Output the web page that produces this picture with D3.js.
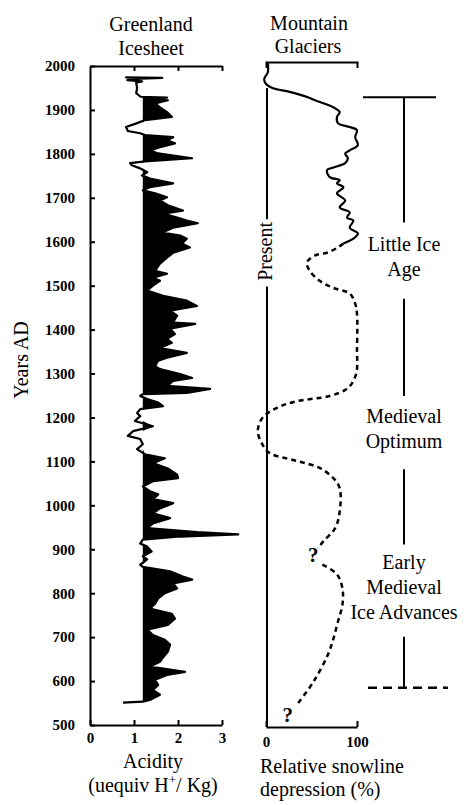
<!DOCTYPE html>
<html>
<head>
<meta charset="utf-8">
<script src="https://cdn.jsdelivr.net/npm/d3@7"></script>
<style>
  body { margin: 0; background: #fff; }
  svg text { font-family: "Liberation Serif", "Times New Roman", serif; fill: #000; }
</style>
</head>
<body>
<svg id="chart" width="474" height="805"></svg>
<script>
// Greenland ice core acidity (uequiv H+/Kg) by year AD
const iceYears = [1974,1973,1971,1968,1965,1962,1950,1938,1930,1928,1926,1922,1915,1906,1895,1884,1877,1870,1861,1852,1847,1843,1838,1831,1824,1815,1808,1801,1790,1783,1779,1774,1767,1758,1751,1744,1733,1724,1717,1710,1701,1694,1683,1671,1664,1655,1648,1642,1632,1621,1614,1607,1596,1587,1575,1564,1550,1534,1527,1518,1511,1500,1489,1477,1466,1454,1443,1432,1416,1413,1402,1390,1379,1370,1358,1347,1336,1329,1317,1310,1299,1290,1283,1272,1265,1256,1253,1249,1242,1234,1226,1219,1210,1203,1192,1180,1169,1158,1151,1139,1128,1116,1107,1096,1084,1070,1062,1055,1043,1032,1025,1014,1005,993,982,971,959,948,939,934,929,922,913,906,895,884,877,865,860,850,838,831,822,811,800,788,776,765,753,742,728,717,705,694,683,667,651,644,633,621,614,603,591,580,569,557,553,551];
const iceAcidity = [0.80,1.64,1.15,0.85,1.18,1.05,1.07,1.05,1.15,1.75,1.25,1.77,1.48,1.59,1.75,1.86,1.25,1.07,0.82,0.86,1.14,1.25,1.89,1.75,1.93,1.59,1.36,1.55,2.32,1.25,0.91,0.95,1.14,1.30,1.18,1.36,1.89,1.36,1.20,1.48,1.75,1.59,1.77,2.11,1.66,1.98,2.20,2.45,1.89,1.64,2.05,2.20,2.09,2.27,1.89,1.75,1.59,1.48,1.75,1.43,1.59,1.43,1.30,1.66,2.20,2.43,1.82,1.98,1.89,2.39,1.82,1.93,1.75,1.86,1.59,2.20,1.75,1.55,1.48,1.59,2.05,2.32,1.89,1.75,2.73,2.20,1.20,1.14,1.30,1.55,1.66,1.14,1.07,1.14,1.02,1.43,0.98,0.86,1.14,1.20,1.07,1.25,1.70,1.43,1.77,1.98,2.00,1.43,1.20,1.36,1.55,1.43,1.89,1.59,1.43,1.82,1.43,1.30,2.43,3.37,2.05,1.20,1.14,1.30,1.40,1.20,1.30,1.14,1.20,1.82,2.11,2.32,1.89,1.98,1.70,1.55,1.48,1.36,1.86,1.93,1.77,1.30,1.43,1.70,1.82,1.77,1.64,1.59,1.36,2.16,1.75,1.48,1.55,1.43,1.59,1.36,1.20,0.75];
const iceBase = 1.2;

// Mountain glaciers: relative snowline depression (%) by year AD
const glacierSolidYears = [2009,1986,1970,1959,1950,1941,1929,1922,1906,1895,1884,1870,1861,1854,1838,1820,1808,1801,1790,1779,1769,1763,1747,1740,1733,1724,1710,1694,1678,1667,1655,1648,1632,1619,1607,1596];
const glacierSolidPct   = [2,2,-2,0,7,26,46,54,74,81,78,79,92,100,98,101,92,87,90,87,74,67,70,81,78,85,78,87,81,92,89,96,92,101,96,85];
const glacierDashAYears = [1596,1587,1575,1569,1553,1534,1511,1495,1482,1459,1436,1358,1299,1267,1249,1237,1222,1199,1169,1139,1119,1101,1085,1062,1039,986,948,918,902];
const glacierDashAPct   = [85,79,67,54,45,48,59,74,92,98,100,100,99,90,70,34,12,-4,-9,-4,4,34,59,74,81,81,76,63,57];
const glacierDashBYears = [865,843,811,774,735,696,660,598,546];
const glacierDashBPct   = [62,78,84,84,79,74,68,52,34];
const queryYears = [886, 523];
const queryPct   = [52, 24];

// Climate periods (year ranges of bracket lines) and their names
const periodLines = [[1929,1644],[1470,1249],[1082,911],[701,585]];
const periodNames = [["Little Ice","Age"],["Medieval","Optimum"],["Early","Medieval","Ice Advances"]];

const yearTicks = d3.range(500, 2001, 100);
const acidTicks = [0, 1, 2, 3];
const snowTicks = [0, 100];

const svg = d3.select("#chart");

const y = d3.scaleLinear().domain([500, 2000]).range([725, 66]);
const xA = d3.scaleLinear().domain([0, 3]).range([90, 222]);
const xG = d3.scaleLinear().domain([0, 100]).range([266, 357]);

function styleAxis(g, bold) {
  g.selectAll("path, line").attr("stroke", "#000").attr("stroke-width", 2);
  g.selectAll("text")
    .attr("font-family", "Liberation Serif, Times New Roman, serif")
    .attr("font-size", 15)
    .attr("font-weight", bold ? "bold" : "normal")
    .attr("fill", "#000");
}

// ---- Greenland panel ----
const ice = iceYears.map((yr, i) => ({ year: yr, v: iceAcidity[i] }));

svg.append("path")
  .datum(ice)
  .attr("d", d3.area()
    .y(d => y(d.year))
    .x0(xA(iceBase))
    .x1(d => xA(Math.max(d.v, iceBase))))
  .attr("fill", "#000");

svg.append("path")
  .datum(ice)
  .attr("d", d3.line().x(d => xA(d.v)).y(d => y(d.year)))
  .attr("fill", "none")
  .attr("stroke", "#000")
  .attr("stroke-width", 2.2)
  .attr("stroke-linejoin", "round");

svg.append("g")
  .attr("transform", `translate(${xA(0)},0)`)
  .call(d3.axisLeft(y).tickValues(yearTicks).tickFormat(d3.format("d"))
    .tickSize(-5).tickSizeOuter(0).tickPadding(15))
  .call(g => styleAxis(g, true));

svg.append("g")
  .attr("transform", `translate(0,${y(500)})`)
  .call(d3.axisBottom(xA).tickValues(acidTicks).tickFormat(d3.format("d"))
    .tickSize(-5).tickSizeOuter(0).tickPadding(7))
  .call(g => styleAxis(g, true));

svg.append("g")
  .attr("transform", `translate(0,${y(2000)})`)
  .call(d3.axisTop(xA).tickValues([1, 2, 3]).tickFormat("")
    .tickSize(-5).tickSizeOuter(0))
  .call(g => styleAxis(g, true));

// ---- Mountain glacier panel ----
const toPts = (ys, ps) => ys.map((yr, i) => ({ year: yr, p: ps[i] }));
const gLine = d3.line().x(d => xG(d.p)).y(d => y(d.year)).curve(d3.curveCatmullRom.alpha(0.5));

svg.append("path")
  .attr("d", gLine(toPts(glacierSolidYears, glacierSolidPct)))
  .attr("fill", "none").attr("stroke", "#000").attr("stroke-width", 2.2);

[[glacierDashAYears, glacierDashAPct], [glacierDashBYears, glacierDashBPct]].forEach(([ys, ps]) => {
  svg.append("path")
    .attr("d", gLine(toPts(ys, ps)))
    .attr("fill", "none").attr("stroke", "#000").attr("stroke-width", 2.5)
    .attr("stroke-dasharray", "5,4");
});

svg.selectAll(".query")
  .data(queryYears)
  .join("text")
  .attr("class", "query")
  .attr("x", (d, i) => xG(queryPct[i]))
  .attr("y", d => y(d) + 7)
  .attr("text-anchor", "middle")
  .attr("font-size", 21)
  .attr("font-weight", "bold")
  .text("?");

// top bracket
svg.append("g")
  .attr("transform", `translate(0,${y(2009)})`)
  .call(d3.axisTop(xG).tickValues([]).tickSizeOuter(-6))
  .call(g => styleAxis(g, false));

svg.append("g")
  .attr("transform", `translate(0,${y(500) + 2})`)
  .call(d3.axisBottom(xG).tickValues(snowTicks).tickFormat(d3.format("d"))
    .tickSize(-6).tickSizeOuter(0).tickPadding(9))
  .call(g => styleAxis(g, true));

// "Present" reference line
const presentX = xG(0) + 1;
[[1950, 1656], [1498, 500]].forEach(([a, b]) => {
  svg.append("line")
    .attr("x1", presentX).attr("x2", presentX)
    .attr("y1", y(a)).attr("y2", y(b) + 2)
    .attr("stroke", "#000").attr("stroke-width", 2);
});
svg.append("text")
  .attr("transform", `translate(${presentX + 5},${y(1578)}) rotate(-90)`)
  .attr("text-anchor", "middle")
  .attr("font-size", 20)
  .text("Present");

// ---- Period annotations ----
const perX = 404;
periodLines.forEach(([a, b]) => {
  svg.append("line")
    .attr("x1", perX).attr("x2", perX)
    .attr("y1", y(a)).attr("y2", y(b))
    .attr("stroke", "#000").attr("stroke-width", 2);
});
svg.append("line")
  .attr("x1", perX - 41).attr("x2", perX + 32)
  .attr("y1", y(periodLines[0][0])).attr("y2", y(periodLines[0][0]))
  .attr("stroke", "#000").attr("stroke-width", 2);
svg.append("line")
  .attr("x1", perX - 36).attr("x2", perX + 44)
  .attr("y1", y(periodLines[3][1])).attr("y2", y(periodLines[3][1]))
  .attr("stroke", "#000").attr("stroke-width", 2.5)
  .attr("stroke-dasharray", "9,6");

periodNames.forEach((lines, i) => {
  const mid = (y(periodLines[i][1]) + y(periodLines[i + 1][0])) / 2;
  const t = svg.append("text").attr("text-anchor", "middle").attr("font-size", 20);
  lines.forEach((s, j) => {
    t.append("tspan")
      .attr("x", perX)
      .attr("y", mid + (j - (lines.length - 1) / 2) * 25 + 3)
      .text(s);
  });
});

// ---- Titles and labels ----
const label = (x, yy, s, anchor) => svg.append("text")
  .attr("x", x).attr("y", yy)
  .attr("text-anchor", anchor || "middle")
  .attr("font-size", 20)
  .text(s);

label(151, 31, "Greenland");
label(151, 55, "Icesheet");
label(309, 30, "Mountain");
label(308, 53, "Glaciers");
label(153, 768, "Acidity");

const unit = svg.append("text")
  .attr("x", 153).attr("y", 792)
  .attr("text-anchor", "middle")
  .attr("font-size", 20);
unit.append("tspan").text("(uequiv H");
unit.append("tspan").attr("dy", -8).attr("font-size", 13).text("+");
unit.append("tspan").attr("dy", 8).text("/ Kg)");

label(260, 773, "Relative snowline", "start");
label(260, 796, "depression (%)", "start");

svg.append("text")
  .attr("transform", "translate(28,360) rotate(-90)")
  .attr("text-anchor", "middle")
  .attr("font-size", 20)
  .text("Years AD");
</script>
</body>
</html>
